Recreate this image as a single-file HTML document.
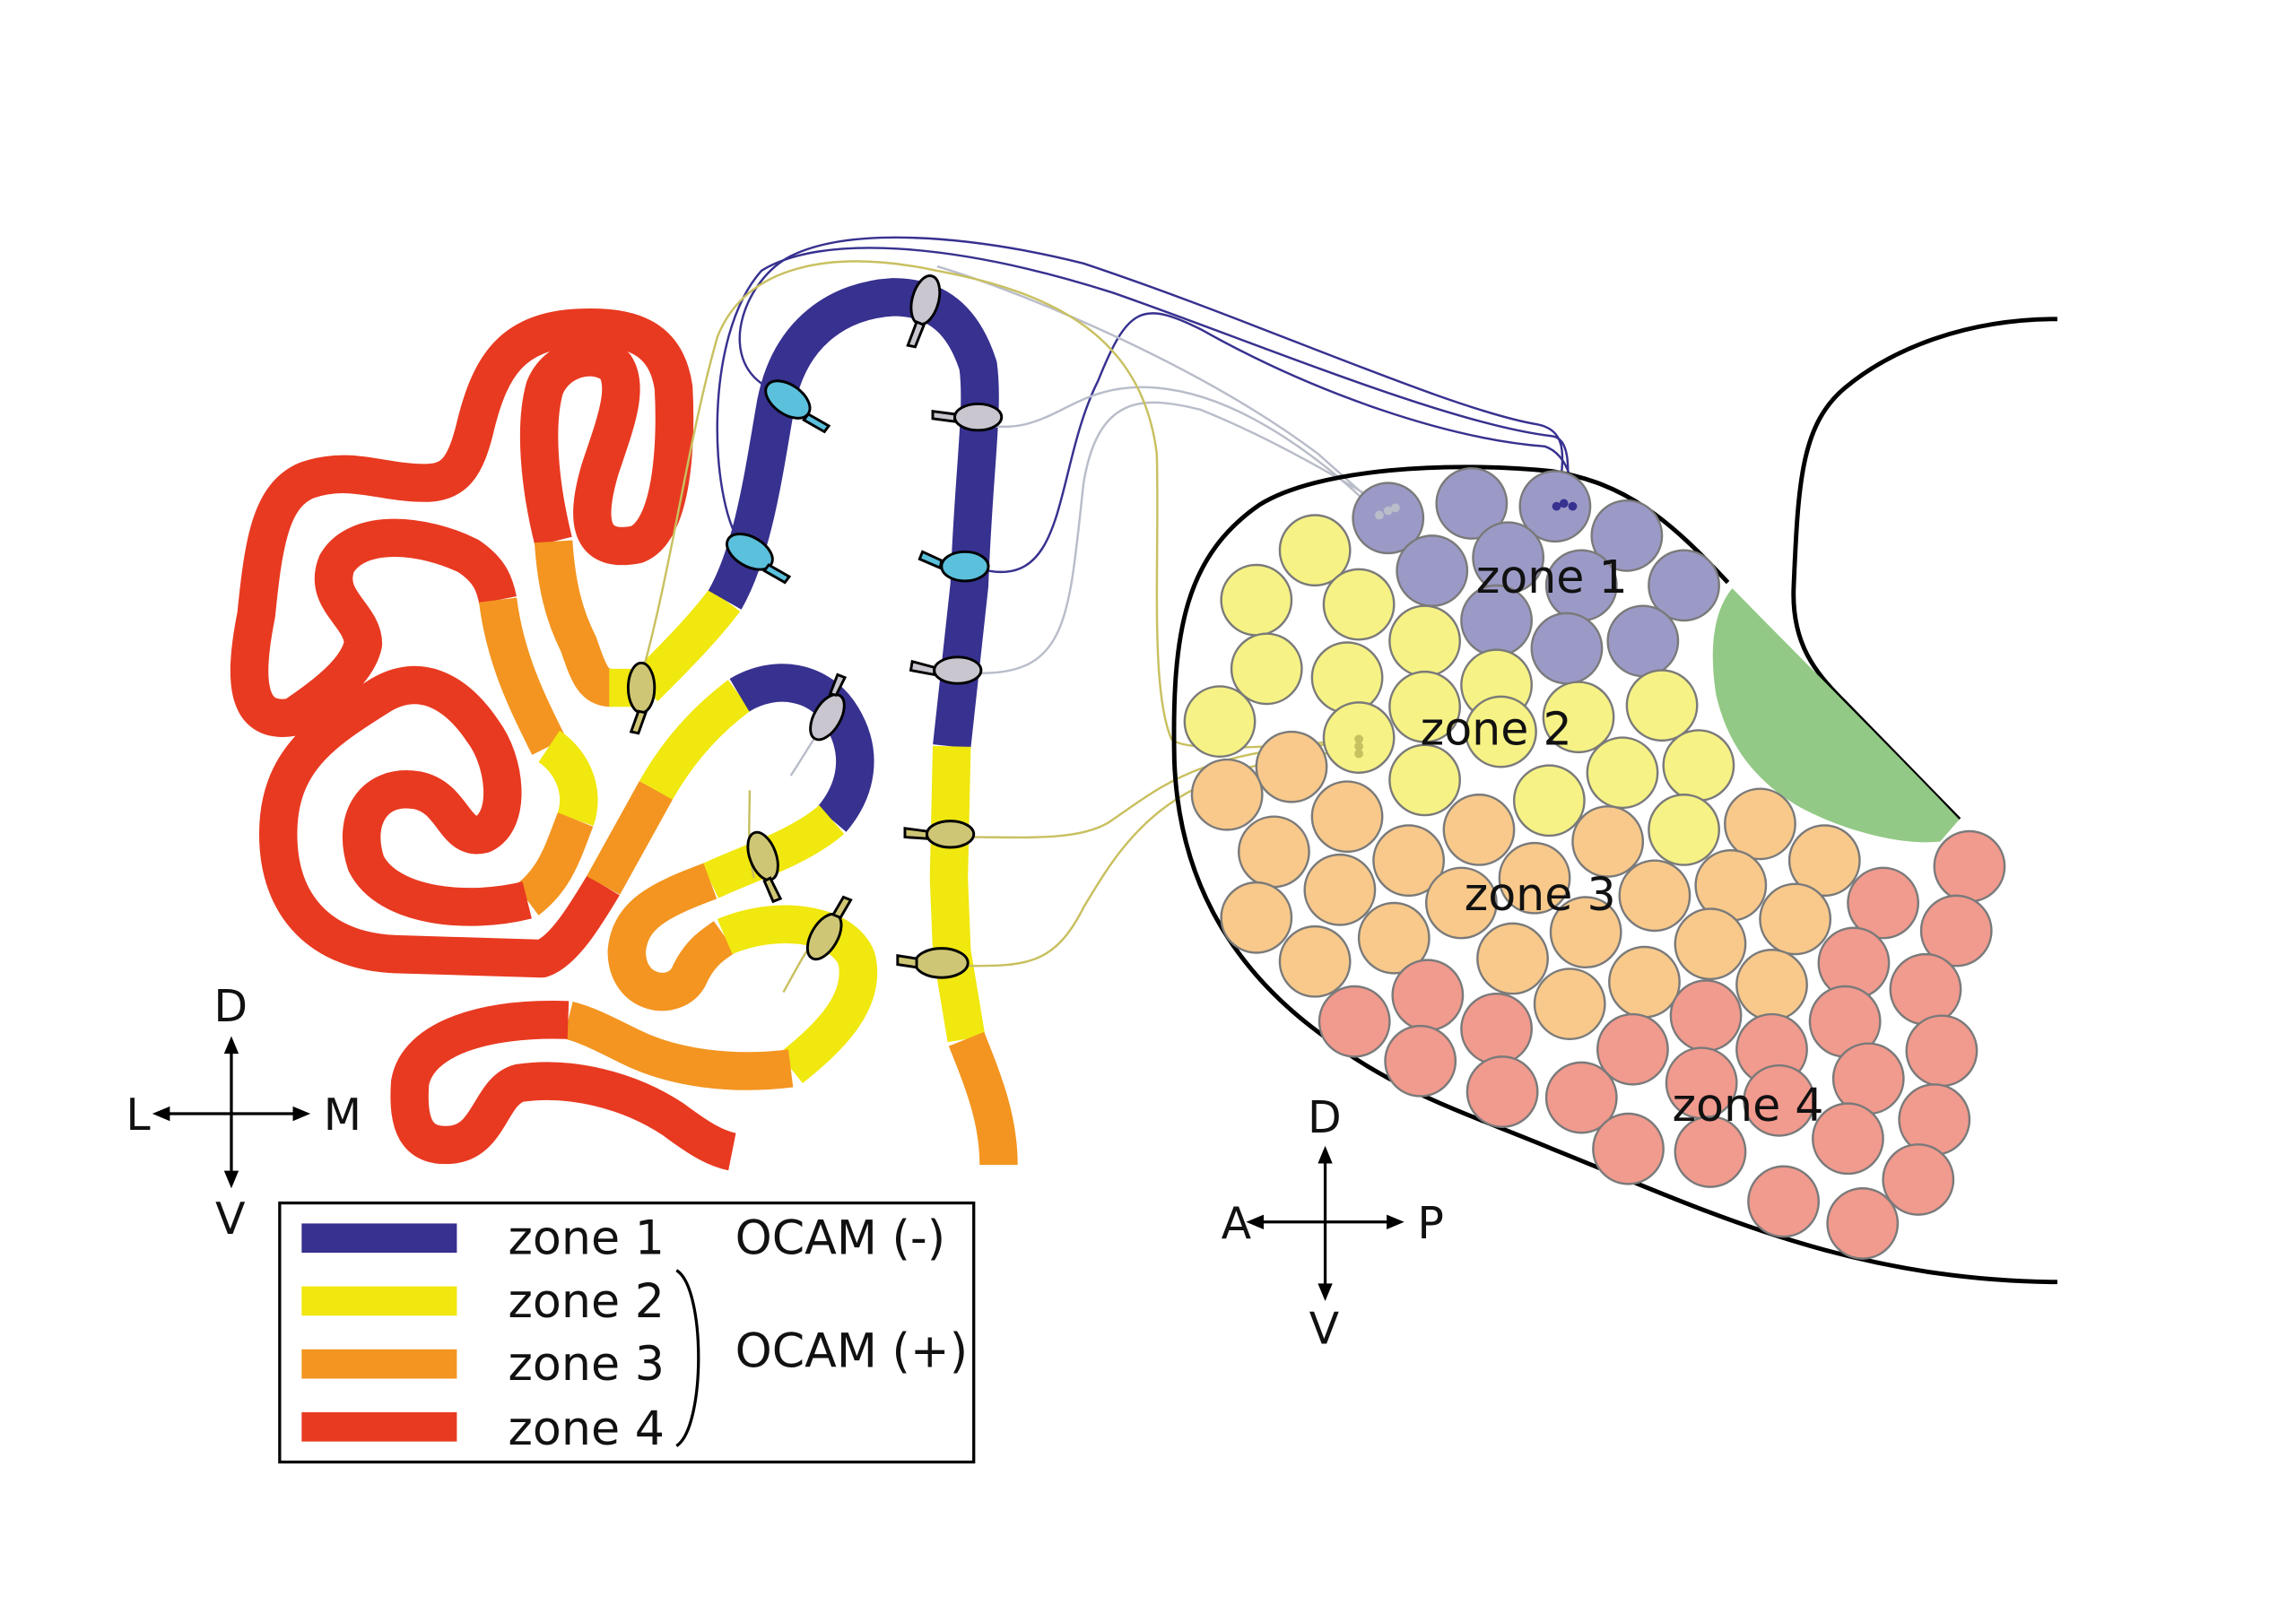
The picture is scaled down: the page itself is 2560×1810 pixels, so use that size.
<!DOCTYPE html>
<html><head><meta charset="utf-8"><style>
html,body{margin:0;padding:0;background:#fff;width:2560px;height:1810px;overflow:hidden}
svg{display:block}
text{font-family:"DejaVu Sans","Liberation Sans",sans-serif}
</style></head><body>
<svg width="2560" height="1810" viewBox="0 0 1568 1109" preserveAspectRatio="none" xmlns="http://www.w3.org/2000/svg">
<g fill="none" stroke-width="26" stroke-linejoin="round">
<path d="M378,370 C368,330 365,290 372,265 C380,245 405,238 420,250 C430,265 420,290 410,320 C398,360 405,378 435,372 C460,362 462,300 460,265 C455,230 430,222 395,224 C350,226 335,250 325,290 C318,320 310,330 290,330 C260,330 240,318 210,328 C185,338 180,370 175,420 C165,470 170,495 200,490 C230,470 245,455 248,440 C248,420 220,410 230,385 C245,360 290,365 320,380 C335,390 338,400 340,410" stroke="#e83a21"/>
<path d="M340,410 C345,450 360,480 375,510" stroke="#f39520"/>
<path d="M378,370 C380,400 385,420 395,440 C402,460 405,470 418,470" stroke="#f39520"/>
<path d="M416,470 L440,470" stroke="#f0e80e"/>
<path d="M375,510 C390,520 400,540 393,560" stroke="#f0e80e"/>
<path d="M393,560 C385,580 380,600 360,615" stroke="#f39520"/>
<path d="M360,615 C320,625 265,620 250,590 C240,560 255,535 285,540 C310,545 310,575 330,570 C350,560 345,520 330,500 C310,470 285,460 260,475 C220,500 190,520 190,570 C190,620 220,650 270,652 L370,655 C385,650 400,625 412,605" stroke="#e83a21"/>
<path d="M412,605 L448,540" stroke="#f39520"/>
<path d="M448,540 C465,510 485,490 505,475" stroke="#f0e80e"/>
<path d="M505,475 C530,460 560,465 575,490 C590,515 585,540 568,560" stroke="#37318f"/>
<path d="M568,560 C545,580 510,590 485,602" stroke="#f0e80e"/>
<path d="M485,602 C450,615 430,625 428,650 C428,680 460,685 470,668 C478,650 488,645 495,640" stroke="#f39520"/>
<path d="M495,640 C530,625 575,630 585,655 C592,685 565,710 540,730" stroke="#f0e80e"/>
<path d="M540,730 C500,735 460,730 430,715 C410,705 400,700 388,697" stroke="#f39520"/>
<path d="M388,697 C330,695 285,710 280,740 C278,770 285,785 310,782 C335,778 335,745 355,740 C390,735 430,745 460,765 C480,780 490,785 500,787" stroke="#e83a21"/>
<path d="M440,470 C460,450 480,430 495,410" stroke="#f0e80e"/>
<path d="M495,410 C515,375 522,320 530,275 C540,225 575,205 610,203 C645,203 660,225 668,250 C672,280 665,320 662,400 L650,510" stroke="#37318f"/>
<path d="M650,510 L648,600 L650,650 L660,710" stroke="#f0e80e"/>
<path d="M660,710 C672,740 682,765 682,796" stroke="#f39520"/>
</g>
<g fill="none" stroke-width="1.5">
<path d="M520,262 C490,240 510,190 540,175 C580,155 660,160 740,180 C860,220 990,280 1050,290 C1075,295 1065,320 1065,345" stroke="#37318f"/>
<path d="M505,370 C485,340 480,230 520,185 C560,160 650,165 760,200 C860,235 990,290 1060,298 C1075,300 1070,330 1070,345" stroke="#37318f"/>
<path d="M675,390 C730,400 720,320 750,260 C770,210 780,205 820,225 C900,270 990,300 1055,305 C1070,310 1075,330 1075,345" stroke="#37318f"/>
<path d="M640,182 C700,200 820,250 900,310 L945,350" stroke="#b9bdc9"/>
<path d="M670,290 C720,300 730,260 790,265 C850,270 910,320 940,350" stroke="#b9bdc9"/>
<path d="M670,460 C730,460 730,420 740,330 C750,270 780,270 820,280 C870,300 920,330 950,348" stroke="#b9bdc9"/>
<path d="M440,455 C460,380 470,300 490,230 C510,180 570,170 640,185 C720,200 780,230 790,310 C792,380 785,470 800,505 C810,515 880,510 928,505" stroke="#c9c060"/>
<path d="M665,572 C700,572 740,575 760,560 C790,540 820,510 928,508" stroke="#c9c060"/>
<path d="M660,660 C700,660 720,660 740,620 C770,570 800,520 928,513" stroke="#c9c060"/>
<path d="M540,530 C550,515 555,505 560,500" stroke="#b9bdc9"/>
<path d="M515,600 C510,580 512,560 512,540" stroke="#c9c060"/>
<path d="M535,678 C545,660 550,650 555,645" stroke="#c9c060"/>
</g>
<g stroke="#000" stroke-width="1.8">
<g fill="#c9c6cf"><ellipse cx="632" cy="205" rx="9" ry="17" transform="rotate(15 632 205)"/><path d="M626,220 L620,236 L625,237 L631,222Z"/>
<ellipse cx="668" cy="285" rx="16" ry="9"/><path d="M652,283 L637,281 L637,286 L652,288Z"/>
<ellipse cx="654" cy="458" rx="16" ry="9"/><path d="M638,456 L623,452 L622,458 L638,461Z"/>
<ellipse cx="565" cy="490" rx="9" ry="17" transform="rotate(30 565 490)"/><path d="M571,475 L577,463 L572,461 L567,474Z"/></g>
<g fill="#5bc0dc"><ellipse cx="538" cy="273" rx="17" ry="10" transform="rotate(35 538 273)"/><path d="M552,283 L566,291 L563,295 L549,287Z"/>
<ellipse cx="512" cy="377" rx="17" ry="10" transform="rotate(30 512 377)"/><path d="M525,386 L539,394 L536,398 L522,390Z"/>
<ellipse cx="659" cy="387" rx="16" ry="10"/><path d="M643,383 L630,377 L628,382 L642,388Z"/></g>
<g fill="#cfc675"><ellipse cx="438" cy="470" rx="9" ry="17"/><path d="M436,486 L431,500 L436,501 L441,487Z"/>
<ellipse cx="649" cy="570" rx="16" ry="9"/><path d="M633,568 L618,566 L618,572 L633,573Z"/>
<ellipse cx="643" cy="658" rx="18" ry="10"/><path d="M626,655 L613,653 L613,659 L626,661Z"/>
<ellipse cx="521" cy="585" rx="9" ry="17" transform="rotate(-20 521 585)"/><path d="M526,600 L533,614 L528,616 L522,602Z"/>
<ellipse cx="563" cy="640" rx="9" ry="17" transform="rotate(30 563 640)"/><path d="M569,625 L576,613 L581,615 L574,627Z"/></g>
</g>
<path d="M1405,218 C1340,218 1290,240 1260,265 C1230,290 1228,330 1225,400 C1223,440 1240,460 1260,480 L1338,560" fill="none" stroke="#000" stroke-width="3"/>
<path d="M1180,398 C1140,355 1110,330 1060,322 C990,315 900,320 860,345 C810,380 800,430 802,520 C805,600 840,660 900,705 C950,745 1000,760 1060,785 C1160,825 1260,875 1405,876" fill="none" stroke="#000" stroke-width="3"/>
<path d="M1183,402 C1168,420 1168,450 1172,475 C1180,510 1200,535 1230,552 C1260,568 1300,578 1325,575 L1338,560 C1300,520 1240,460 1183,402Z" fill="#93c986"/>
<g stroke="#7a7a7a" stroke-width="1.5">
<g fill="#9b9ac7"><circle cx="948" cy="354" r="24"/><circle cx="1005" cy="344" r="24"/><circle cx="1062" cy="346" r="24"/><circle cx="1111" cy="366" r="24"/><circle cx="978" cy="390" r="24"/><circle cx="1030" cy="381" r="24"/><circle cx="1080" cy="400" r="24"/><circle cx="1150" cy="400" r="24"/><circle cx="1022" cy="424" r="24"/><circle cx="1070" cy="443" r="24"/><circle cx="1122" cy="438" r="24"/></g>
<g fill="#f6f285"><circle cx="898" cy="376" r="24"/><circle cx="858" cy="410" r="24"/><circle cx="928" cy="413" r="24"/><circle cx="973" cy="438" r="24"/><circle cx="865" cy="457" r="24"/><circle cx="920" cy="463" r="24"/><circle cx="1022" cy="468" r="24"/><circle cx="973" cy="483" r="24"/><circle cx="1078" cy="490" r="24"/><circle cx="1135" cy="482" r="24"/><circle cx="833" cy="493" r="24"/><circle cx="928" cy="504" r="24"/><circle cx="1025" cy="500" r="24"/><circle cx="1108" cy="528" r="24"/><circle cx="1160" cy="523" r="24"/><circle cx="973" cy="533" r="24"/><circle cx="1058" cy="547" r="24"/><circle cx="1150" cy="567" r="24"/></g>
<g fill="#f8c98b"><circle cx="882" cy="524" r="24"/><circle cx="838" cy="543" r="24"/><circle cx="920" cy="558" r="24"/><circle cx="1010" cy="567" r="24"/><circle cx="1098" cy="575" r="24"/><circle cx="1202" cy="563" r="24"/><circle cx="870" cy="582" r="24"/><circle cx="962" cy="588" r="24"/><circle cx="1048" cy="600" r="24"/><circle cx="1130" cy="612" r="24"/><circle cx="1182" cy="605" r="24"/><circle cx="1246" cy="588" r="24"/><circle cx="915" cy="608" r="24"/><circle cx="998" cy="617" r="24"/><circle cx="1083" cy="637" r="24"/><circle cx="1226" cy="628" r="24"/><circle cx="858" cy="627" r="24"/><circle cx="952" cy="641" r="24"/><circle cx="1033" cy="655" r="24"/><circle cx="1123" cy="671" r="24"/><circle cx="1168" cy="645" r="24"/><circle cx="898" cy="657" r="24"/><circle cx="1210" cy="673" r="24"/><circle cx="1072" cy="686" r="24"/></g>
<g fill="#f19a8e"><circle cx="1345" cy="592" r="24"/><circle cx="1286" cy="617" r="24"/><circle cx="1336" cy="636" r="24"/><circle cx="1266" cy="658" r="24"/><circle cx="975" cy="680" r="24"/><circle cx="1315" cy="676" r="24"/><circle cx="925" cy="698" r="24"/><circle cx="1022" cy="703" r="24"/><circle cx="1165" cy="694" r="24"/><circle cx="1260" cy="698" r="24"/><circle cx="1115" cy="717" r="24"/><circle cx="1210" cy="717" r="24"/><circle cx="1326" cy="718" r="24"/><circle cx="970" cy="725" r="24"/><circle cx="1276" cy="737" r="24"/><circle cx="1162" cy="740" r="24"/><circle cx="1026" cy="746" r="24"/><circle cx="1080" cy="750" r="24"/><circle cx="1321" cy="765" r="24"/><circle cx="1215" cy="752" r="24"/><circle cx="1262" cy="778" r="24"/><circle cx="1112" cy="785" r="24"/><circle cx="1168" cy="787" r="24"/><circle cx="1310" cy="806" r="24"/><circle cx="1218" cy="821" r="24"/><circle cx="1272" cy="836" r="24"/></g>
</g>
<g fill="#37318f"><circle cx="1063" cy="346" r="3"/><circle cx="1068" cy="344" r="3"/><circle cx="1074" cy="346" r="3"/></g>
<g fill="#b9bdc9"><circle cx="942" cy="352" r="3"/><circle cx="948" cy="349" r="3"/><circle cx="953" cy="347" r="3"/></g>
<g fill="#c9c060"><circle cx="928" cy="505" r="3"/><circle cx="928" cy="510" r="3"/><circle cx="928" cy="515" r="3"/></g>
<g font-size="31" fill="#111">
<text x="1008" y="405">zone 1</text><text x="970" y="509">zone 2</text><text x="1000" y="622">zone 3</text><text x="1142" y="766">zone 4</text>
</g>
<g stroke="#000" stroke-width="2" fill="none"><path d="M158,712 L158,808 M108,761 L208,761"/><path d="M905,787 L905,885 M855,835 L955,835"/></g>
<g fill="#000"><path d="M158,708 L153,720 L163,720Z M158,812 L153,800 L163,800Z M104,761 L116,756 L116,766Z M212,761 L200,756 L200,766Z"/>
<path d="M905,783 L900,795 L910,795Z M905,889 L900,877 L910,877Z M851,835 L863,830 L863,840Z M959,835 L947,830 L947,840Z"/></g>
<g font-size="30" fill="#111"><text x="146" y="698">D</text><text x="86" y="772">L</text><text x="221" y="772">M</text><text x="147" y="843">V</text>
<text x="893" y="774">D</text><text x="834" y="846">A</text><text x="968" y="846">P</text><text x="894" y="918">V</text></g>
<rect x="191" y="822" width="474" height="177" fill="none" stroke="#000" stroke-width="2"/>
<rect x="206" y="836" width="106" height="20" fill="#37318f"/><rect x="206" y="879" width="106" height="20" fill="#f0e80e"/><rect x="206" y="922" width="106" height="20" fill="#f39520"/><rect x="206" y="965" width="106" height="20" fill="#e83a21"/>
<g font-size="32" fill="#111"><text x="347" y="857">zone 1</text><text x="347" y="900">zone 2</text><text x="347" y="943">zone 3</text><text x="347" y="987">zone 4</text>
<text x="502" y="857">OCAM (-)</text><text x="502" y="934">OCAM (+)</text></g>
<path d="M462,868 C482,880 482,975 462,988" fill="none" stroke="#000" stroke-width="2"/>
</svg>
</body></html>
